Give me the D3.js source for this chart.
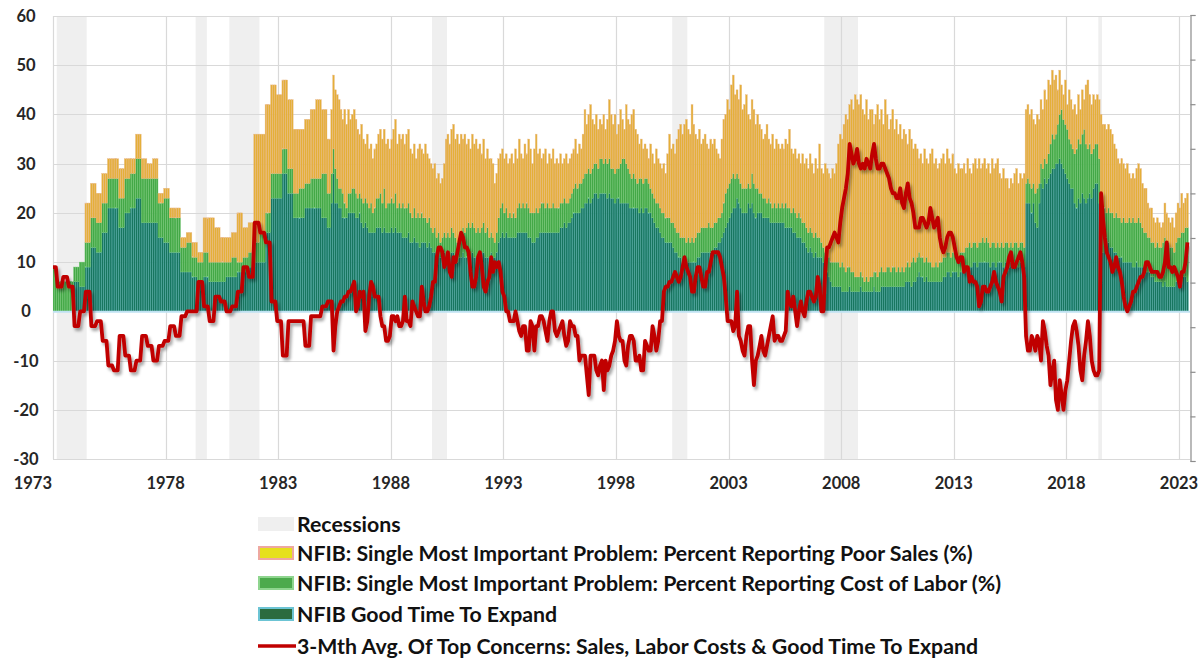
<!DOCTYPE html>
<html>
<head>
<meta charset="utf-8">
<script src="https://cdn.jsdelivr.net/npm/d3@7"></script>
<style>
  html, body { margin: 0; padding: 0; background: #fff; }
  svg { display: block; font-family: Lato, 'Open Sans', sans-serif; }
</style>
</head>
<body>
<svg id="chart" width="1202" height="661"></svg>
<script>
// quarterly survey era: blocks of 3 months starting Aug 1973, monthly from Jan 1986
const quarterFrom = new Date(1973, 7, 1);
const monthFrom = new Date(1986, 0, 1);

const qExpand = [0, 0, 0, 0, 6, 5, 9, 13, 12, 16, 21, 21, 17, 20, 21, 23, 18, 18, 18, 15,
  14, 12, 12, 8, 8, 7, 6, 7, 6, 6, 6, 7, 7, 8, 8, 9, 10, 10, 16, 23,
  23, 28, 24, 19, 19, 21, 21, 21, 19, 17];
const qLabor = [9, 6, 6, 6, 3, 5, 5, 6, 6, 6, 6, 6, 6, 7, 7, 8, 9, 9, 9, 7,
  9, 7, 7, 5, 6, 4, 4, 5, 4, 4, 4, 3, 4, 2, 3, 3, 4, 6, 4, 5,
  5, 5, 5, 5, 6, 5, 6, 6, 9, 7];
const qSales = [0, 0, 0, 0, 0, 0, 8, 7, 6, 6, 4, 4, 6, 4, 3, 5, 4, 3, 4, 2,
  2, 2, 2, 2, 2, 3, 2, 7, 9, 7, 5, 5, 5, 10, 6, 6, 22, 20, 22, 18,
  16, 14, 14, 13, 12, 13, 14, 16, 13, 11];
const qAvg = [9, 5, 7, 5, -3, 0, 4, -3, -2, -6, -11, -12, -5, -9, -12, -10, -5, -7, -10, -7,
  -6, -3, -5, -1, 0, 0, 6, 1, -2, 3, 2, 0, 1, 4, 9, 7, 18, 16, 14, 2,
  -2, -9, -2, -2, -2, -7, -1, -1, 1, 2];

// monthly, Jan 1986 .. Jan 2024
const mExpand = [
  22, 28, 22, 22, 21, 21, 19, 19, 19, 20, 20, 20,
  20, 19, 19, 20, 18, 17, 18, 17, 16, 16, 16, 16,
  17, 17, 17, 16, 17, 16, 16, 16, 17, 16, 17, 16,
  16, 16, 15, 15, 15, 16, 14, 14, 15, 14, 14, 13,
  14, 14, 14, 13, 14, 13, 12, 12, 12, 12, 11, 11,
  12, 11, 12, 11, 12, 12, 11, 10, 11, 11, 12, 11,
  11, 12, 11, 12, 11, 11, 11, 11, 12, 12, 11, 11,
  11, 12, 11, 11, 12, 14, 15, 16, 15, 16, 15, 15,
  15, 15, 15, 16, 16, 16, 16, 16, 16, 15, 15, 14,
  14, 15, 15, 16, 16, 16, 16, 16, 16, 16, 16, 16,
  16, 16, 17, 17, 18, 17, 18, 18, 19, 20, 20, 20,
  20, 21, 21, 22, 22, 23, 22, 23, 24, 24, 23, 24,
  24, 24, 24, 23, 24, 23, 23, 22, 23, 23, 22, 22,
  22, 22, 22, 21, 21, 21, 21, 21, 20, 21, 20, 21,
  21, 20, 20, 19, 18, 17, 17, 16, 15, 15, 14, 14,
  14, 14, 13, 12, 12, 11, 11, 10, 10, 10, 10, 10,
  10, 10, 10, 11, 11, 12, 12, 12, 12, 12, 12, 12,
  13, 13, 14, 14, 15, 16, 17, 18, 19, 20, 21, 21,
  23, 22, 21, 20, 20, 20, 22, 21, 22, 20, 19, 20,
  20, 20, 19, 19, 19, 19, 18, 18, 18, 18, 18, 18,
  18, 18, 17, 17, 17, 17, 16, 16, 15, 15, 15, 14,
  14, 13, 12, 13, 12, 11, 12, 11, 11, 11, 10, 9,
  8, 7, 6, 5, 5, 5, 5, 5, 4, 4, 4, 4,
  5, 4, 4, 4, 4, 4, 5, 4, 4, 4, 4, 4,
  4, 5, 4, 4, 4, 5, 5, 5, 5, 5, 5, 5,
  5, 5, 5, 5, 5, 5, 6, 6, 6, 5, 6, 6,
  7, 8, 7, 7, 6, 7, 6, 6, 6, 6, 6, 6,
  6, 6, 7, 7, 8, 8, 7, 8, 8, 8, 7, 8,
  8, 8, 9, 9, 9, 9, 10, 10, 9, 10, 10, 10,
  10, 10, 10, 9, 10, 10, 9, 10, 10, 10, 9, 10,
  10, 9, 10, 9, 10, 10, 9, 10, 10, 9, 22, 22,
  22, 20, 22, 18, 17, 22, 26, 25, 27, 26, 27, 28,
  29, 29, 30, 30, 31, 30, 29, 28, 27, 26, 25, 25,
  22, 21, 23, 22, 24, 23, 22, 23, 24, 23, 25, 26,
  26, 22, 17, 12, 14, 15, 14, 13, 13, 12, 12, 11,
  11, 11, 10, 10, 10, 10, 10, 9, 9, 10, 9, 9,
  9, 9, 8, 8, 8, 7, 7, 6, 6, 6, 6, 5,
  6, 5, 5, 5, 5, 5, 6, 6, 6, 6, 7, 7,
  6];
const mLabor = [
  6, 5, 7, 5, 4, 4, 5, 3, 2, 4, 4, 5,
  5, 5, 4, 4, 5, 5, 5, 5, 5, 6, 4, 5,
  6, 6, 7, 6, 8, 5, 6, 6, 6, 6, 7, 5,
  6, 5, 7, 6, 6, 6, 6, 5, 6, 5, 6, 6,
  6, 5, 5, 5, 5, 4, 4, 5, 3, 4, 3, 4,
  4, 4, 4, 4, 5, 4, 4, 4, 4, 5, 5, 5,
  6, 6, 6, 6, 6, 5, 6, 5, 5, 6, 5, 6,
  4, 4, 4, 3, 4, 5, 6, 6, 5, 5, 4, 5,
  4, 5, 4, 5, 6, 5, 6, 5, 6, 6, 5, 6,
  6, 6, 5, 5, 6, 6, 5, 6, 5, 5, 6, 5,
  5, 5, 5, 5, 5, 5, 4, 5, 5, 5, 6, 5,
  6, 5, 6, 6, 6, 6, 6, 6, 6, 6, 6, 7,
  7, 6, 7, 7, 7, 6, 6, 6, 6, 6, 8, 9,
  9, 8, 7, 7, 6, 7, 6, 5, 7, 6, 6, 6,
  6, 6, 5, 5, 5, 5, 5, 5, 5, 5, 5, 5,
  5, 4, 5, 5, 4, 5, 4, 5, 5, 4, 5, 4,
  5, 4, 5, 5, 5, 5, 5, 5, 5, 6, 5, 5,
  5, 5, 5, 5, 5, 6, 7, 7, 7, 7, 7, 6,
  5, 5, 5, 5, 5, 5, 4, 4, 6, 6, 6, 5,
  4, 4, 4, 4, 3, 4, 4, 3, 4, 3, 4, 3,
  4, 3, 5, 4, 4, 3, 5, 4, 4, 5, 4, 4,
  4, 4, 4, 4, 4, 4, 4, 4, 4, 3, 3, 3,
  4, 4, 4, 5, 5, 5, 5, 4, 6, 5, 4, 5,
  4, 4, 4, 3, 3, 3, 3, 3, 2, 3, 2, 3,
  3, 3, 4, 3, 4, 4, 3, 3, 4, 4, 3, 4,
  4, 3, 4, 3, 4, 3, 3, 4, 3, 5, 5, 4,
  4, 4, 4, 4, 4, 4, 4, 4, 3, 3, 4, 3,
  4, 4, 4, 4, 4, 4, 4, 4, 4, 4, 4, 4,
  4, 4, 4, 4, 5, 4, 4, 4, 4, 4, 4, 5,
  4, 5, 4, 4, 4, 4, 4, 4, 3, 4, 4, 4,
  4, 4, 4, 4, 4, 4, 4, 4, 4, 4, 4, 5,
  4, 5, 4, 6, 8, 4, 4, 4, 4, 4, 5, 6,
  7, 6, 6, 8, 9, 11, 10, 10, 10, 9, 9, 8,
  10, 12, 12, 12, 12, 14, 12, 10, 10, 9, 8, 8,
  8, 9, 5, 8, 7, 5, 7, 7, 7, 7, 8, 8,
  8, 7, 9, 8, 8, 9, 8, 10, 9, 8, 10, 9,
  8, 7, 8, 7, 7, 7, 7, 7, 8, 7, 7, 9,
  9, 9, 9, 8, 8, 7, 8, 9, 9, 10, 9, 10,
  11];
const mSales = [
  13, 15, 16, 17, 18, 16, 15, 19, 17, 17, 15, 15,
  16, 15, 14, 12, 15, 13, 11, 14, 12, 12, 11, 12,
  11, 13, 13, 13, 12, 13, 13, 11, 12, 15, 15, 13,
  14, 14, 14, 13, 15, 15, 13, 13, 13, 12, 13, 15,
  13, 13, 15, 14, 12, 13, 13, 13, 12, 12, 12, 12,
  14, 20, 20, 19, 20, 22, 20, 22, 19, 20, 18, 20,
  17, 17, 16, 18, 17, 19, 16, 18, 15, 17, 15, 16,
  16, 15, 15, 12, 12, 12, 11, 11, 11, 11, 11, 11,
  13, 10, 14, 10, 13, 11, 9, 13, 10, 14, 13, 10,
  13, 15, 12, 12, 9, 10, 12, 8, 11, 10, 11, 9,
  10, 9, 10, 8, 8, 10, 8, 8, 8, 8, 9, 7,
  8, 7, 9, 13, 10, 11, 14, 10, 8, 10, 8, 8,
  7, 10, 6, 9, 12, 11, 9, 12, 7, 9, 11, 8,
  6, 12, 10, 10, 13, 13, 10, 10, 7, 8, 7, 7,
  6, 5, 9, 8, 7, 11, 9, 9, 9, 10, 9, 13,
  17, 15, 16, 15, 19, 21, 23, 21, 23, 25, 22, 22,
  27, 24, 21, 19, 21, 17, 18, 19, 17, 15, 18, 17,
  17, 15, 13, 12, 15, 17, 16, 18, 15, 19, 20, 17,
  17, 16, 20, 16, 17, 19, 14, 14, 15, 15, 13, 15,
  14, 13, 12, 13, 16, 12, 12, 15, 11, 14, 12, 12,
  12, 12, 13, 13, 16, 13, 11, 13, 12, 12, 11, 14,
  12, 14, 13, 15, 14, 13, 15, 14, 19, 15, 15, 18,
  17, 17, 17, 19, 18, 20, 24, 27, 25, 29, 32, 30,
  33, 35, 33, 37, 36, 35, 36, 34, 34, 36, 33, 34,
  34, 30, 32, 35, 31, 32, 30, 35, 31, 28, 31, 32,
  28, 31, 27, 30, 26, 29, 27, 24, 28, 25, 22, 24,
  22, 19, 21, 19, 23, 20, 20, 22, 24, 21, 21, 20,
  20, 21, 21, 19, 21, 19, 19, 20, 17, 16, 19, 17,
  17, 18, 15, 18, 15, 15, 16, 17, 16, 17, 15, 15,
  17, 14, 16, 15, 17, 15, 17, 17, 15, 13, 16, 13,
  13, 12, 13, 13, 14, 15, 13, 14, 13, 15, 15, 15,
  14, 16, 13, 14, 15, 13, 13, 12, 14, 13, 15, 12,
  13, 12, 12, 7, 9, 5, 5, 9, 5, 10, 9, 8,
  10, 7, 9, 7, 9, 6, 12, 14, 10, 10, 11, 9,
  10, 12, 18, 18, 17, 17, 17, 17, 16, 15, 13, 12,
  11, 13, 11, 11, 12, 9, 9, 9, 9, 11, 11, 11,
  9, 9, 9, 7, 6, 7, 5, 5, 5, 5, 4, 4,
  7, 6, 5, 5, 6, 5, 6, 7, 6, 8, 6, 6,
  7];
const mAvg = [
  2, -8, -3, 0, 1, 2, 2, 3, 3, 4, 4, 5,
  6, 0, 1, 4, 3, 4, -4, -2, 3, 6, 5, 3,
  3, 3, -1, -3, -3, -6, -6, -5, -1, -1, -2, -1,
  -3, -3, -2, 3, -2, -2, -3, 2, 1, 0, -1, -1,
  5, 2, 0, 0, 1, 3, 6, 6, 11, 13, 13, 12,
  9, 10, 12, 8, 7, 11, 10, 12, 14, 16, 15, 13,
  13, 12, 8, 5, 5, 7, 11, 12, 9, 5, 4, 6,
  7, 11, 8, 10, 9, 10, 8, 4, 3, 0, 0, -2,
  -2, -2, 0, -2, -4, -5, -3, -3, -8, -8, -2, -3,
  -8, -3, -3, -1, -1, -2, -4, -6, -2, 0, 0, -4,
  -5, -4, -3, -2, -5, -7, -6, -2, -3, -3, -5, -5,
  -10, -9, -9, -9, -13, -17, -9, -9, -9, -12, -13, -11,
  -10, -16, -10, -12, -11, -9, -8, -6, -2, -5, -6, -6,
  -10, -11, -7, -5, -5, -6, -10, -10, -9, -12, -12, -6,
  -7, -8, -8, -3, -5, -8, -6, -2, -2, 4, 5, 5,
  6, 6, 7, 8, 7, 6, 7, 9, 11, 9, 8, 7,
  4, 4, 7, 9, 9, 7, 5, 5, 8, 8, 10, 12,
  12, 12, 12, 11, 9, 7, 3, -2, -2, -2, -4, -3,
  4, -5, -6, -8, -9, -5, -3, -3, -10, -15, -10, -9,
  -7, -5, -8, -9, -7, -5, -3, -1, -6, -5, -5, -6,
  -6, -5, -4, 4, 2, 1, 3, 0, -3, 0, 2, 0,
  -1, 2, 4, 4, 3, 2, 3, 7, 5, 0, 0, 8,
  13, 13, 14, 15, 16, 15, 14, 18, 21, 23, 25, 28,
  34, 32, 30, 31, 33, 30, 29, 30, 29, 31, 30, 29,
  32, 34, 31, 29, 29, 30, 30, 29, 28, 27, 25, 24,
  24, 23, 23, 25, 22, 21, 24, 26, 23, 22, 20, 17,
  17, 17, 19, 19, 18, 17, 18, 21, 19, 17, 18, 19,
  15, 13, 12, 13, 15, 16, 16, 15, 13, 11, 10, 11,
  11, 8, 9, 9, 6, 7, 6, 6, 5, 1, 2, 5,
  5, 4, 4, 5, 6, 8, 6, 5, 4, 2, 7, 8,
  9, 11, 12, 9, 9, 10, 11, 12, 10, 7, -5, -8,
  -8, -5, -6, -8, -5, -6, -10, -2, -4, -7, -9, -15,
  -12, -10, -18, -20, -14, -17, -20, -16, -14, -10, -6, -3,
  -2, -4, -7, -12, -14, -9, -6, -2, -5, -10, -12, -13,
  -13, -12, 24, 19, 15, 12, 11, 10, 8, 9, 11, 9,
  8, 6, 3, 1, 0, 1, 2, 4, 4, 5, 6, 7,
  7, 8, 10, 10, 9, 8, 8, 8, 8, 7, 7, 8,
  10, 14, 9, 9, 8, 9, 8, 7, 5, 8, 8, 10,
  14];

// recession start / end months [year, month index]
const recessions = [
  [[1973, 10], [1975, 2]],
  [[1980, 0], [1980, 6]],
  [[1981, 6], [1982, 10]],
  [[1990, 6], [1991, 2]],
  [[2001, 2], [2001, 10]],
  [[2007, 11], [2009, 5]],
  [[2020, 1], [2020, 3]],
];

const yTicks = [60, 50, 40, 30, 20, 10, 0, -10, -20, -30];
const xTickYears = [1973, 1978, 1983, 1988, 1993, 1998, 2003, 2008, 2013, 2018, 2023];

const legendLabels = [
  'Recessions',
  'NFIB: Single Most Important Problem: Percent Reporting Poor Sales (%)',
  'NFIB: Single Most Important Problem: Percent Reporting Cost of Labor (%)',
  'NFIB Good Time To Expand',
  '3-Mth Avg. Of Top Concerns: Sales, Labor Costs & Good Time To Expand',
];

const seriesStyle = {
  expand: { fill: '#17765f', stroke: '#58afae' },
  labor: { fill: '#43a846', stroke: '#7acb7a' },
  sales: { fill: '#e4af38', stroke: '#e9b98c' },
};

class NfibChart {
  constructor(selector) {
    this.svg = d3.select(selector);
    this.box = { left: 53, right: 1190, top: 16, bottom: 459 };
    this.rows = this._buildRows();

    this.x = d3
      .scaleTime()
      .domain([new Date(1973, 8, 1), new Date(2024, 1, 27)])
      .range([this.box.left, this.box.right]);
    this.y = d3
      .scaleLinear()
      .domain([-30, 60])
      .range([this.box.bottom, this.box.top]);
    // unlabeled secondary axis on the right
    this.y2 = d3
      .scaleLinear()
      .domain([-40, 60])
      .range([461, 15]);
  }

  // quarterly blocks repeated per month, then the monthly series
  _buildRows() {
    const rows = [];
    qExpand.forEach((v, i) => {
      for (let k = 0; k < 3; k++) {
        const date = d3.timeMonth.offset(quarterFrom, i * 3 + k);
        if (date >= monthFrom) break;
        rows.push({ date, expand: v, labor: qLabor[i], sales: qSales[i], avg: qAvg[i] });
      }
    });
    mExpand.forEach((v, i) => {
      rows.push({
        date: d3.timeMonth.offset(monthFrom, i),
        expand: v,
        labor: mLabor[i],
        sales: mSales[i],
        avg: mAvg[i],
      });
    });
    rows.forEach(r => { r.end = d3.timeMonth.offset(r.date, 1); });
    return rows;
  }

  _defs() {
    const defs = this.svg.append('defs');
    defs.append('clipPath')
      .attr('id', 'plot-clip')
      .append('rect')
      .attr('x', this.box.left)
      .attr('y', this.box.top - 10)
      .attr('width', this.box.right - this.box.left)
      .attr('height', this.box.bottom - this.box.top + 20);

    const f = defs.append('filter')
      .attr('id', 'line-shadow')
      .attr('x', '-5%')
      .attr('y', '-10%')
      .attr('width', '110%')
      .attr('height', '125%');
    f.append('feDropShadow')
      .attr('dx', 2)
      .attr('dy', 3)
      .attr('stdDeviation', 1.6)
      .attr('flood-color', '#000')
      .attr('flood-opacity', 0.35);
  }

  _renderRecessions() {
    const { x, box } = this;
    this.svg.append('g')
      .selectAll('rect')
      .data(recessions)
      .enter()
      .append('rect')
      .attr('x', d => x(new Date(d[0][0], d[0][1], 1)))
      .attr('width', d => x(new Date(d[1][0], d[1][1], 1)) - x(new Date(d[0][0], d[0][1], 1)))
      .attr('y', box.top)
      .attr('height', box.bottom - box.top)
      .attr('fill', '#efefef');
  }

  _renderGrid() {
    const { x, y, box } = this;
    const g = this.svg.append('g').attr('stroke', '#d9d9d9').attr('stroke-width', 1.2);
    g.selectAll('.hgrid')
      .data(yTicks)
      .enter()
      .append('line')
      .attr('x1', box.left)
      .attr('x2', box.right)
      .attr('y1', d => Math.round(y(d)) + 0.5)
      .attr('y2', d => Math.round(y(d)) + 0.5);
    g.selectAll('.vgrid')
      .data(xTickYears)
      .enter()
      .append('line')
      .attr('x1', d => Math.round(x(new Date(d, 8, 1))) + 0.5)
      .attr('x2', d => Math.round(x(new Date(d, 8, 1))) + 0.5)
      .attr('y1', box.top)
      .attr('y2', box.bottom);
  }

  _renderBars() {
    const { x, y } = this;
    const stacked = d3.stack().keys(['expand', 'labor', 'sales'])(this.rows);

    this.svg.append('g')
      .attr('clip-path', 'url(#plot-clip)')
      .selectAll('g')
      .data(stacked)
      .enter()
      .append('g')
      .attr('fill', s => seriesStyle[s.key].fill)
      .attr('stroke', s => seriesStyle[s.key].stroke)
      .attr('stroke-width', 0.4)
      .selectAll('rect')
      .data(s => s.filter(d => d[1] > d[0]))
      .enter()
      .append('rect')
      .attr('x', d => x(d.data.date))
      .attr('width', d => x(d.data.end) - x(d.data.date))
      .attr('y', d => y(d[1]))
      .attr('height', d => y(d[0]) - y(d[1]));

    // zero line
    this.svg.append('line')
      .attr('x1', this.box.left)
      .attr('x2', this.box.right)
      .attr('y1', y(0) + 0.5)
      .attr('y2', y(0) + 0.5)
      .attr('stroke', '#bfe2f2')
      .attr('stroke-width', 2);
  }

  _renderLine() {
    const { x, y } = this;
    const line = d3.line()
      .x(d => (x(d.date) + x(d.end)) / 2)
      .y(d => y(d.avg));

    this.svg.append('g')
      .attr('clip-path', 'url(#plot-clip)')
      .append('path')
      .datum(this.rows)
      .attr('d', line)
      .attr('fill', 'none')
      .attr('stroke', '#c00000')
      .attr('stroke-width', 3.8)
      .attr('stroke-linejoin', 'round')
      .attr('filter', 'url(#line-shadow)');
  }

  _renderAxes() {
    const { x, y, box } = this;

    // y labels
    this.svg.append('g')
      .selectAll('text')
      .data(yTicks)
      .enter()
      .append('text')
      .attr('x', 26)
      .attr('y', d => y(d) + 6)
      .attr('text-anchor', 'middle')
      .attr('font-size', 16.5)
      .attr('font-weight', 700)
      .attr('fill', '#262626')
      .text(d => d);

    // x labels, first one pushed left of the plot edge
    this.svg.append('g')
      .selectAll('text')
      .data(xTickYears)
      .enter()
      .append('text')
      .attr('x', (d, i) => (i === 0 ? x(new Date(d, 8, 1)) - 1 : x(new Date(d, 8, 1))))
      .attr('y', 489)
      .attr('text-anchor', (d, i) => (i === 0 ? 'end' : 'middle'))
      .attr('font-size', 16.5)
      .attr('font-weight', 700)
      .attr('fill', '#262626')
      .text(d => d);

    // secondary axis, ticks only
    const right = this.svg.append('g')
      .attr('transform', `translate(${box.right + 0.5},0)`)
      .call(d3.axisRight(this.y2).tickValues(d3.range(-40, 61, 10)).tickSize(5).tickFormat(''));
    right.select('.domain').attr('stroke', '#8c8c8c').attr('stroke-width', 1.2);
    right.selectAll('.tick line').attr('stroke', '#8c8c8c').attr('stroke-width', 1.2);
  }

  _renderLegend() {
    const rowsY = [524, 553, 583, 614, 646];
    const g = this.svg.append('g');
    const sw = { x: 258, w: 36, h: 14 };

    g.append('rect')
      .attr('x', sw.x).attr('y', rowsY[0] - 7)
      .attr('width', sw.w).attr('height', sw.h)
      .attr('fill', '#efefef');
    g.append('rect')
      .attr('x', sw.x + 1).attr('y', rowsY[1] - 6)
      .attr('width', sw.w - 2).attr('height', sw.h - 2)
      .attr('fill', '#e6e01c').attr('stroke', '#eea8a0').attr('stroke-width', 2);
    g.append('rect')
      .attr('x', sw.x + 1).attr('y', rowsY[2] - 6)
      .attr('width', sw.w - 2).attr('height', sw.h - 2)
      .attr('fill', '#4caa4c').attr('stroke', '#8fd58f').attr('stroke-width', 2);
    g.append('rect')
      .attr('x', sw.x + 1).attr('y', rowsY[3] - 6)
      .attr('width', sw.w - 2).attr('height', sw.h - 2)
      .attr('fill', '#2b6b3e').attr('stroke', '#6cc4d4').attr('stroke-width', 2);
    g.append('line')
      .attr('x1', sw.x).attr('x2', sw.x + 38)
      .attr('y1', rowsY[4]).attr('y2', rowsY[4])
      .attr('stroke', '#c00000').attr('stroke-width', 3.5);

    g.selectAll('text')
      .data(legendLabels)
      .enter()
      .append('text')
      .attr('x', 297)
      .attr('y', (d, i) => rowsY[i] + 7.5)
      .attr('font-size', 21.3)
      .attr('font-weight', 700)
      .attr('fill', '#111')
      .text(d => d);
  }

  render() {
    this._defs();
    this._renderRecessions();
    this._renderGrid();
    this._renderBars();
    this._renderLine();
    this._renderAxes();
    this._renderLegend();
  }
}

new NfibChart('#chart').render();
</script>
</body>
</html>
